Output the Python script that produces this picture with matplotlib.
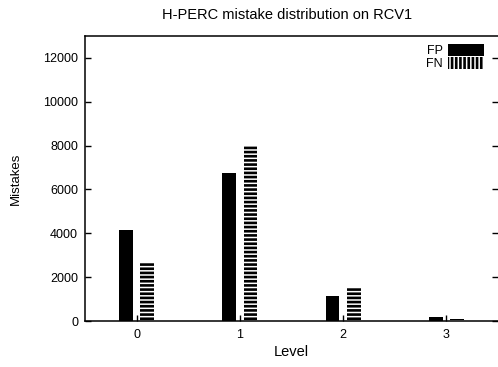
import matplotlib
matplotlib.use('Agg')
import matplotlib.pyplot as plt
from matplotlib.patches import Patch

plt.rcParams['font.family'] = ['Liberation Sans', 'DejaVu Sans']
plt.rcParams['hatch.linewidth'] = 1.9

levels = [0, 1, 2, 3]
fp = [4130, 6760, 1160, 170]
fn = [2700, 7960, 1510, 100]

width = 0.135
off = 0.103

fig = plt.figure(figsize=(4.98, 3.67), dpi=100)
ax = fig.add_axes([85/498, 1 - 321/367, 413/498, 285/367])

xs = list(levels)
ax.bar([x - off for x in xs], fp, width, color='black', linewidth=0)
ax.bar([x + off for x in xs], fn, width, facecolor='white', edgecolor='black',
       linewidth=0, hatch='----')

ax.set_xlim(-0.5, 3.5)
ax.set_ylim(0, 13000)
ax.set_xticks(levels)
ax.set_yticks(range(0, 12001, 2000))
ax.tick_params(axis='both', direction='in', labelsize=9, width=1)
ax.tick_params(axis='y', length=4, right=True, pad=5)
ax.tick_params(axis='x', length=4, pad=6)
ax.spines['right'].set_visible(False)
for s in ['left', 'top', 'bottom']:
    ax.spines[s].set_linewidth(1.1)

ax.set_title('H-PERC mistake distribution on RCV1', fontsize=10.5, pad=12, x=0.49)
ax.set_xlabel('Level', fontsize=10.5, labelpad=3)
ax.set_ylabel('Mistakes', fontsize=9.5, labelpad=15)

handles = [Patch(facecolor='black', edgecolor='black', linewidth=0),
           Patch(facecolor='white', edgecolor='black', linewidth=0, hatch='||||')]
ax.legend(handles, ['FP', 'FN'], loc='upper right', frameon=False, markerfirst=False,
          fontsize=9, handlelength=2.9, handleheight=1.15, handletextpad=0.4,
          labelspacing=0.0, borderaxespad=0.2, bbox_to_anchor=(0.985, 1.0))

fig.savefig('out.png', dpi=100)
